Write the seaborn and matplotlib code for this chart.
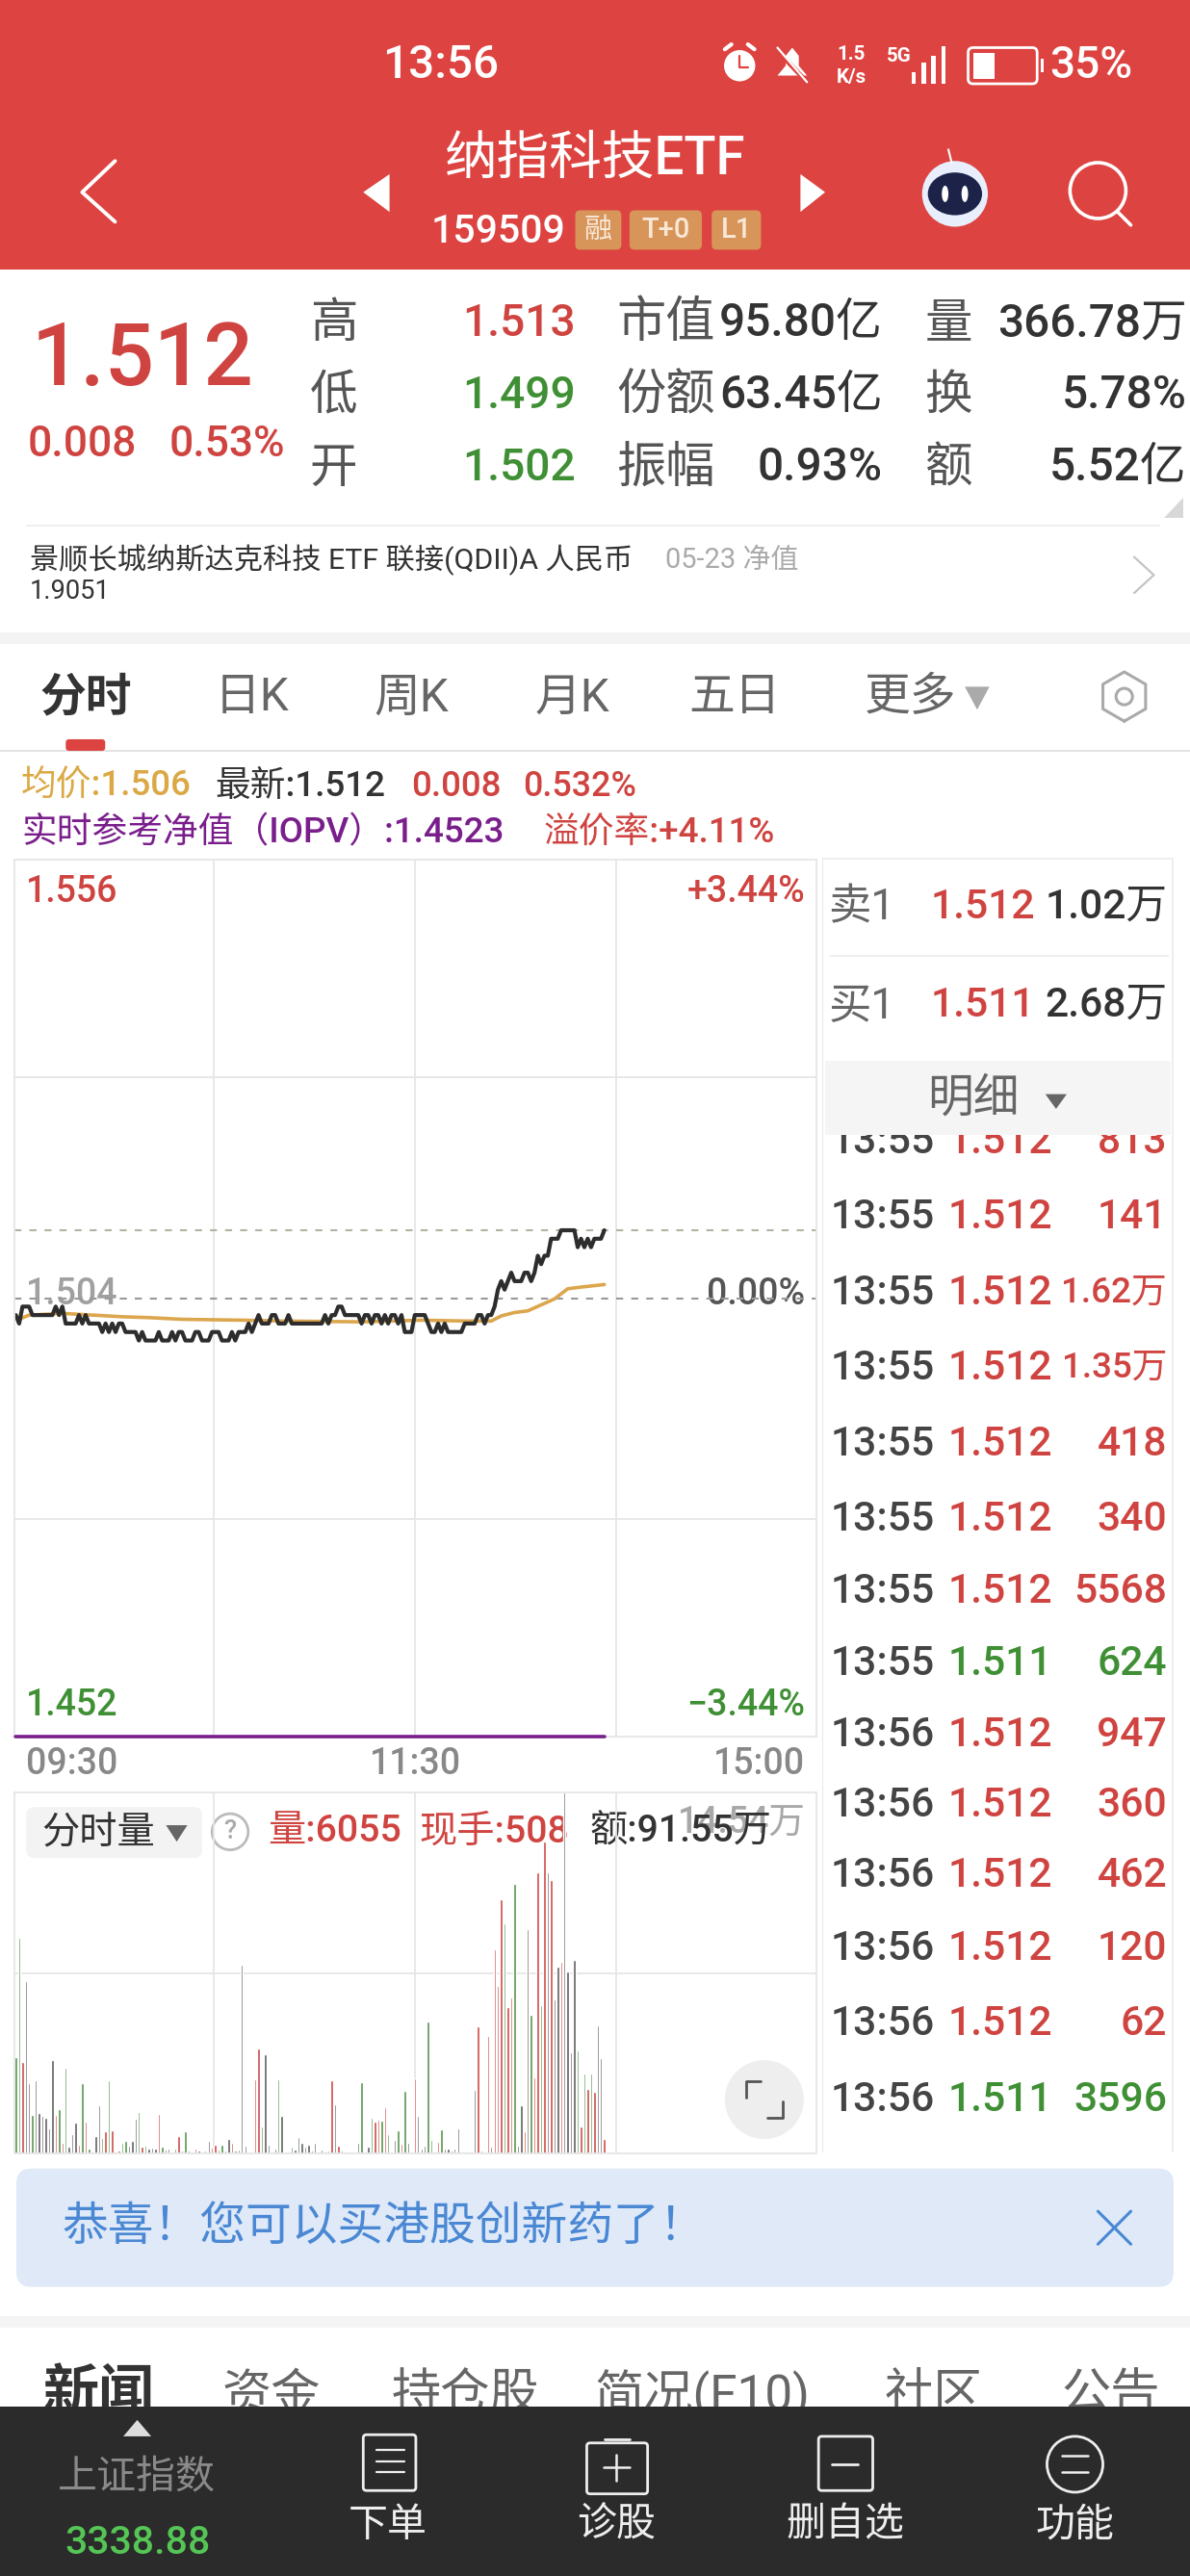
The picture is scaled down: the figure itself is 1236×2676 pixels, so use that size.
import matplotlib
matplotlib.use('Agg')
import matplotlib.pyplot as plt
from matplotlib.patches import Rectangle, Circle, Ellipse, Polygon, FancyBboxPatch
import numpy as np
import seaborn as sns

# minute prices, in thousandths of a yuan
price_mil = [1502, 1501, 1503, 1503, 1503, 1502, 1502, 1502, 1502, 1502,
             1502, 1502, 1503, 1502, 1503, 1501, 1501, 1501, 1501, 1502,
             1501, 1502, 1501, 1501, 1501, 1501, 1500, 1501, 1500, 1501,
             1500, 1501, 1501, 1500, 1500, 1500, 1500, 1499, 1500, 1499,
             1499, 1499, 1499, 1500, 1499, 1499, 1499, 1500, 1499, 1500,
             1500, 1499, 1499, 1499, 1500, 1500, 1499, 1499, 1499, 1500,
             1500, 1500, 1499, 1499, 1499, 1500, 1499, 1500, 1500, 1500,
             1501, 1500, 1501, 1502, 1501, 1501, 1501, 1502, 1502, 1501,
             1501, 1501, 1502, 1501, 1501, 1501, 1501, 1501, 1501, 1501,
             1501, 1501, 1501, 1502, 1501, 1502, 1502, 1503, 1503, 1502,
             1502, 1502, 1502, 1502, 1501, 1502, 1502, 1501, 1502, 1502,
             1501, 1502, 1501, 1502, 1502, 1501, 1502, 1500, 1500, 1500,
             1502, 1502, 1502, 1502, 1501, 1500, 1500, 1501, 1500, 1501,
             1500, 1500, 1500, 1500, 1500, 1501, 1501, 1501, 1501, 1502,
             1502, 1501, 1502, 1502, 1503, 1505, 1506, 1505, 1506, 1507,
             1506, 1506, 1506, 1507, 1507, 1506, 1507, 1509, 1508, 1509,
             1509, 1511, 1511, 1511, 1512, 1512, 1512, 1512, 1512, 1510,
             1511, 1510, 1511, 1510, 1511, 1511, 1511, 1512]

# average price, read at a few minutes only
avg_minutes = [1, 4, 14, 23, 32, 40, 50, 68, 80, 104, 122, 135, 143, 146, 150, 154, 158, 162, 166, 170, 177]
avg_price = [1.5015, 1.5020, 1.5022, 1.5020, 1.5018, 1.5017, 1.5015, 1.5014, 1.5013, 1.5012, 1.5014, 1.5013,
             1.5013, 1.5019, 1.5023, 1.5025, 1.5032, 1.5039, 1.5051, 1.5053, 1.5056]

iopv_minutes = [0, 177]
iopv_price = [1.4523, 1.4523]

# volume per minute, hundreds of lots
volume = [386, 868, 369, 695, 282, 155, 294, 164, 153, 144,
          100, 378, 155, 177, 44, 347, 26, 76, 123, 34,
          282, 127, 19, 8, 70, 192, 62, 91, 293, 92,
          6, 10, 44, 49, 32, 52, 140, 166, 26, 30,
          21, 23, 19, 158, 26, 16, 18, 6, 19, 71,
          13, 91, 13, 5, 18, 13, 5, 13, 52, 22,
          34, 17, 36, 10, 58, 44, 13, 17, 760, 32,
          4, 4, 297, 421, 110, 398, 36, 9, 18, 297,
          153, 5, 5, 26, 16, 65, 41, 26, 36, 10,
          41, 6, 17, 6, 10, 295, 199, 30, 10, 9,
          5, 9, 5, 41, 285, 3, 26, 142, 127, 135,
          130, 188, 76, 4, 56, 93, 38, 251, 41, 4,
          304, 153, 18, 32, 531, 56, 6, 48, 98, 18,
          18, 13, 19, 100, 9, 9, 9, 6, 255, 512,
          13, 3, 473, 28, 822, 673, 1023, 926, 589, 628,
          1085, 32, 194, 91, 904, 557, 308, 1134, 596, 1256,
          1131, 1101, 619, 751, 773, 1454, 732, 408, 781, 414,
          110, 320, 259, 320, 250, 514, 382, 58]
bar_kind = ("ggrnngnnnn" "nnrgrgnnnr" "grgnnngrgr" "nrggnnngrg" "nnnrgnnngr" "ngnrrnnnnr"
            "rggnnrgrnn" "nnrrgnnnng" "nnngnnnnnn" "nnnrgrnrnn" "nnnngnngrr" "grgnngrgnn"
            "rnnnggnrgn" "nnnnnnnnnr" "nnrnrrrgrr" "gnnrngrrgr" "nrnnrnnnng" "rgrgrnnr")

quote_rows = [('高', '1.513', 'r', '市值', '95.80亿', '量', '366.78万'),
              ('低', '1.499', 'g', '份额', '63.45亿', '换', '5.78%'),
              ('开', '1.502', 'g', '振幅', '0.93%', '额', '5.52亿')]
trade_y = [694, 740, 786, 832, 878, 924, 968, 1012, 1055, 1098, 1141, 1185, 1231, 1277]
trade_time = ['13:55'] * 8 + ['13:56'] * 6
trade_price = ['1.512'] * 7 + ['1.511'] + ['1.512'] * 5 + ['1.511']
trade_size = ['813', '141', '1.62万', '1.35万', '418', '340', '5568', '624', '947', '360', '462', '120', '62', '3596']

RED = '#cf4440'
GREEN = '#3f8f34'
DARK = '#333333'
GRID = '#e6e6e6'
BARS = {'r': '#cd4a47', 'g': '#55954d', 'n': '#5e5e5e'}
FONT = ['Roboto', 'Noto Sans CJK SC', 'DejaVu Sans']

sns.set_theme(style='white')
plt.rcParams['font.family'] = FONT

fig = plt.figure(figsize=(12.36, 26.76), dpi=100, facecolor='white')

# the whole phone screen, in coordinates of a 724 wide screenshot
ui = fig.add_axes([0, 0, 1, 1], zorder=0)
ui.set_xlim(0, 724)
ui.set_ylim(1568, 0)
ui.axis('off')


def txt(x, y, s, size, color=DARK, ha='left', **kw):
    kw.setdefault('fontweight', 'medium')
    return ui.text(x, y + 2, s, fontsize=size * 1.229, color=color, ha=ha, va='center', **kw)


def box(x0, y0, x1, y1, color, z=1):
    ui.add_patch(Rectangle((x0, y0), x1 - x0, y1 - y0, fc=color, ec='none', zorder=z))


def stroke(xs, ys, color, lw=2.0, z=3):
    ui.plot(xs, ys, color=color, lw=lw, zorder=z, solid_capstyle='round', solid_joinstyle='round')


def tri(points, color, z=3):
    ui.add_patch(Polygon(points, closed=True, fc=color, ec='none', zorder=z))


def badge(x0, y0, x1, y1, color, z=2, r=3):
    ui.add_patch(FancyBboxPatch((x0 + r, y0 + r), x1 - x0 - 2 * r, y1 - y0 - 2 * r,
                                boxstyle='round,pad=%d' % r, fc=color, ec='none', zorder=z))


# red header
box(0, 0, 724, 164, '#dd4340')
txt(268, 38, '13:56', 28, 'white', ha='center', zorder=4)
ui.add_patch(Circle((450, 40), 9.5, fc='white', ec='none', zorder=3))
stroke([441, 445], [30, 27], 'white', 3)
stroke([459, 455], [30, 27], 'white', 3)
stroke([450, 450, 455], [34, 41, 41], '#dd4340', 1.6, z=4)
tri([(473, 46), (491, 46), (486, 40), (486, 34), (482, 29), (478, 34), (478, 40)], 'white')
stroke([472, 492], [30, 51], '#dd4340', 3.5, z=4)
stroke([473, 491], [29, 50], 'white', 1.6, z=5)
txt(518, 31, '1.5', 12, 'white', ha='center', fontweight='bold', zorder=4)
txt(518, 45, 'K/s', 12, 'white', ha='center', fontweight='bold', zorder=4)
txt(547, 32, '5G', 12, 'white', ha='center', fontweight='bold', zorder=4)
for bx, by in zip([556, 562, 568, 574], [44, 38, 34, 28]):
    box(bx - 1.3, by, bx + 1.3, 51, 'white', 3)
ui.add_patch(FancyBboxPatch((592, 32), 36, 16, boxstyle='round,pad=3', fc='none', ec='white', lw=2, zorder=3))
box(592, 32, 605, 48, 'white', 3)
box(633, 36, 635, 44, 'white', 3)
txt(664, 38, '35%', 27, 'white', ha='center', zorder=4)
stroke([70, 50, 70], [98, 117, 135], 'white', 2.8)
txt(362, 95, '纳指科技ETF', 32, 'white', ha='center', zorder=4)
tri([(221, 117), (237, 106), (237, 129)], 'white')
tri([(502, 117), (487, 106), (487, 129)], 'white')
txt(303, 139, '159509', 24, 'white', ha='center', zorder=4)
for x0, x1, s in [(350, 378, '融'), (383, 427, 'T+0'), (433, 463, 'L1')]:
    badge(x0, 128, x1, 152, '#d8955a')
    txt((x0 + x1) / 2, 138, s, 17, '#f7e8d8', ha='center', zorder=4)
ui.add_patch(Circle((581, 118), 20, fc='#e8eefc', ec='none', zorder=3))
ui.add_patch(Ellipse((581, 118), 33, 26, fc='#1d2348', ec='none', zorder=4))
ui.add_patch(Ellipse((575, 118), 4, 10, fc='white', ec='none', zorder=5))
ui.add_patch(Ellipse((587, 118), 4, 10, fc='white', ec='none', zorder=5))
stroke([579, 577], [99, 91], 'white', 1.5)
ui.add_patch(Circle((668, 116), 17, fc='none', ec='white', lw=2.6, zorder=3))
stroke([680, 688], [129, 137], 'white', 2.6)

# quote block
txt(87, 218, '1.512', 53, RED, ha='center')
txt(50, 269, '0.008', 26, RED, ha='center')
txt(138, 269, '0.53%', 26, RED, ha='center')
for row_y, row in zip([195, 239, 283], quote_rows):
    txt(203, row_y, row[0], 29, '#555555', ha='center', fontweight='normal')
    txt(350, row_y, row[1], 27, RED if row[2] == 'r' else GREEN, ha='right')
    txt(375, row_y, row[3], 30, '#555555', fontweight='normal')
    txt(537, row_y, row[4], 28, DARK, ha='right')
    txt(577, row_y, row[5], 29, '#555555', ha='center', fontweight='normal')
    txt(722, row_y, row[6], 28, DARK, ha='right')
tri([(708, 315), (720, 315), (720, 303)], '#d8d8d8')
box(16, 319.5, 706, 320.5, '#eeeeee')
txt(18, 339, '景顺长城纳斯达克科技 ETF 联接(QDII)A 人民币', 17.7, DARK, fontweight='normal')
txt(405, 339, '05-23 净值', 17, '#aaaaaa', fontweight='normal')
txt(18, 358, '1.9051', 16, DARK, fontweight='normal')
stroke([690, 702, 690], [339, 350, 361], '#c4c4c4', 1.6)
box(0, 385, 724, 392, '#f3f3f3')

# period tabs
txt(52, 423, '分时', 28, DARK, ha='center', fontweight='bold')
for tab_x, s in zip([153, 250, 348, 447, 554], ['日K', '周K', '月K', '五日', '更多']):
    txt(tab_x, 423, s, 28, '#666666', ha='center', fontweight='normal')
tri([(587, 418), (602, 418), (594.5, 432)], '#aaaaaa')
hex_a = np.deg2rad(np.arange(0, 361, 60))
stroke(684 + 15 * np.sin(hex_a), 424 + 15 * np.cos(hex_a), '#aaaaaa', 2.2)
ui.add_patch(Circle((684, 424), 5, fc='none', ec='#aaaaaa', lw=2.2, zorder=3))
badge(40, 450, 64, 457, '#dd4340', r=2)
box(0, 456.5, 724, 457.5, '#e3e3e3')

txt(13, 477, '均价:1.506', 21.5, '#dba845')
txt(131, 477, '最新:1.512', 21.5, DARK)
txt(250, 477, '0.008', 21.5, RED)
txt(318, 477, '0.532%', 21, RED)
txt(13, 505, '实时参考净值（IOPV）:1.4523', 21.5, '#7a1e8c')
txt(331, 505, '溢价率:+4.11%', 21.5, RED)

# chart labels sit under the plotted lines
txt(16, 541, '1.556', 22, RED)
txt(490, 541, '+3.44%', 22, RED, ha='right')
txt(16, 786, '1.504', 22, '#a0a0a0')
txt(490, 786, '0.00%', 22, '#555555', ha='right')
txt(16, 1036, '1.452', 22, GREEN)
txt(490, 1036, '−3.44%', 22, GREEN, ha='right')
txt(16, 1072, '09:30', 22, '#888888')
txt(253, 1072, '11:30', 22, '#888888', ha='center')
txt(490, 1072, '15:00', 22, '#888888', ha='right')

badge(16, 1100, 123, 1131, '#f3f3f3', r=5)
txt(60, 1114, '分时量', 23, DARK, ha='center', zorder=4)
tri([(101, 1111), (114, 1111), (107.5, 1121)], '#666666')
ui.add_patch(Circle((140, 1115), 11, fc='none', ec='#bbbbbb', lw=2, zorder=3))
txt(140, 1113, '?', 16, '#aaaaaa', ha='center')
txt(163, 1113, '量:6055', 23, RED)
txt(255, 1113, '现手:508', 23, RED)
txt(490, 1108, '14.54万', 22, '#a8a8a8', ha='right')
txt(359, 1113, '额:91.55万', 23, DARK)

# right hand panel
box(500, 522, 501, 1310, '#e8e8e8')
box(713, 522, 714, 1310, '#eeeeee')
box(500, 522, 714, 523, '#eeeeee')
box(505, 581.5, 711, 582.5, '#eeeeee')
for row_y, s, p, q in [(551, '卖1', '1.512', '1.02万'), (611, '买1', '1.511', '2.68万')]:
    txt(504, row_y, s, 26, '#666666', fontweight='normal')
    txt(566, row_y - 1, p, 25, RED)
    txt(710, row_y - 1, q, 25, DARK, ha='right')
for row_y, t, p, q in zip(trade_y, trade_time, trade_price, trade_size):
    colour = RED if p == '1.512' else GREEN
    txt(505, row_y - 1, t, 25, '#444444')
    txt(577, row_y - 1, p, 25, colour)
    txt(710, row_y - 1, q, 21.5 if '万' in q else 25, colour, ha='right')
box(502, 646, 712, 691, '#f5f5f5', 5)
txt(592, 667, '明细', 28, '#666666', ha='center', zorder=6, fontweight='normal')
tri([(636, 666), (649, 666), (642.5, 675)], '#666666', z=6)

# notice
badge(10, 1320, 714, 1392, '#dfe9f8', r=9)
txt(38, 1354, '恭喜！您可以买港股创新药了！', 28, '#4a88d4', zorder=4, fontweight='normal')
stroke([668, 688], [1346, 1366], '#4a88d4', 2.2)
stroke([668, 688], [1366, 1346], '#4a88d4', 2.2)
box(0, 1410, 724, 1417, '#f4f4f4')

# lower tabs and dark toolbar
txt(60, 1456, '新闻', 34, DARK, ha='center', fontweight='bold', zorder=2)
for tab_x, s in zip([165, 283, 427, 568, 676], ['资金', '持仓股', '简况(F10)', '社区', '公告']):
    txt(tab_x, 1456, s, 30, '#666666', ha='center', zorder=2, fontweight='normal')
box(0, 1465, 724, 1568, '#2b2b2b', 5)
tri([(75, 1483), (92, 1483), (83.5, 1473)], '#dddddd', z=6)
txt(83, 1506, '上证指数', 24, '#8a8a8a', ha='center', zorder=6, fontweight='normal')
txt(84, 1546, '3338.88', 24, '#55c555', ha='center', zorder=6)
for tool_x, s in zip([236, 375, 514, 654], ['下单', '诊股', '删自选', '功能']):
    txt(tool_x, 1535, s, 24, '#eeeeee', ha='center', zorder=6, fontweight='normal')
ui.add_patch(FancyBboxPatch((223, 1484), 28, 30, boxstyle='round,pad=2', fc='none', ec='#eeeeee', lw=2, zorder=6))
for ly in [1491, 1498, 1505]:
    stroke([229, 246], [ly, ly], '#eeeeee', 1.6, z=7)
ui.add_patch(FancyBboxPatch((359, 1489), 33, 27, boxstyle='round,pad=2', fc='none', ec='#eeeeee', lw=2, zorder=6))
stroke([368, 383], [1485, 1485], '#eeeeee', 2, z=7)
stroke([367, 383], [1502, 1502], '#eeeeee', 1.8, z=7)
stroke([375, 375], [1494, 1510], '#eeeeee', 1.8, z=7)
ui.add_patch(FancyBboxPatch((500, 1485), 29, 29, boxstyle='round,pad=2', fc='none', ec='#eeeeee', lw=2, zorder=6))
stroke([506, 522], [1500, 1500], '#eeeeee', 2, z=7)
ui.add_patch(Circle((654, 1500), 17, fc='none', ec='#eeeeee', lw=2, zorder=6))
stroke([646, 662], [1495, 1495], '#eeeeee', 1.8, z=7)
stroke([646, 662], [1505, 1505], '#eeeeee', 1.8, z=7)

# price panel, sized in real pixels
W, H = 1236.0, 2676.0
left, right = 14.7, 848.0
ax = fig.add_axes([left / W, 1 - 1804.0 / H, (right - left) / W, (1804.0 - 893.0) / H], zorder=1)
ax.patch.set_alpha(0)
minutes = np.arange(len(price_mil))
price = np.array(price_mil) / 1000.0
ax.axhline(1.504, color='#999999', lw=1.5, ls=(0, (3.5, 4)))
ax.axhline(price[-1], color='#b3b3a3', lw=1.5, ls=(0, (3.5, 4)))
sns.lineplot(x=iopv_minutes, y=iopv_price, color='#7a1e8c', lw=2.6, clip_on=False, zorder=5, ax=ax)
sns.lineplot(x=avg_minutes, y=avg_price, color='#dca64d', lw=2.6, ax=ax)
sns.lineplot(x=minutes, y=price, color='#2d2d2d', lw=3.0, ax=ax)
ax.set_xlim(-0.5, 240.8)
ax.set_ylim(1.504 - 0.0517, 1.504 + 0.0517)
ax.set_yticks([1.478, 1.530])
grid_x = [59.5, 120.0, 180.5]

# volume panel
ax2 = fig.add_axes([left / W, 1 - 2237.0 / H, (right - left) / W, (2237.0 - 1862.0) / H], zorder=1)
ax2.patch.set_alpha(0)
sns.barplot(x=minutes, y=volume, hue=list(bar_kind), palette=BARS, native_scale=True, dodge=False,
            width=0.7, saturation=1, legend=False, ax=ax2)
ax2.set_xlim(-0.5, 240.8)
ax2.set_ylim(0, 1454)
ax2.set_yticks([727])

for a in (ax, ax2):
    a.set_xticks(grid_x)
    a.grid(True, color=GRID, lw=1.3)
    a.set_axisbelow(True)
    a.tick_params(left=False, bottom=False, labelleft=False, labelbottom=False)
    a.set_xlabel('')
    a.set_ylabel('')
    for sp in a.spines.values():
        sp.set_color(GRID)
        sp.set_linewidth(1.3)

# fullscreen button over everything
top = fig.add_axes([0, 0, 1, 1], zorder=2)
top.set_xlim(0, 724)
top.set_ylim(1568, 0)
top.axis('off')
top.add_patch(Circle((465, 1278), 24, fc='#eeeeee', ec='none'))
for cx, cy, dx, dy in [(454, 1277, 1, -1), (476, 1279, -1, 1)]:
    top.plot([cx, cx, cx + 9 * dx], [cy, cy + 10 * dy, cy + 10 * dy], color='#555555', lw=2)

fig.savefig('out.png', dpi=100)
